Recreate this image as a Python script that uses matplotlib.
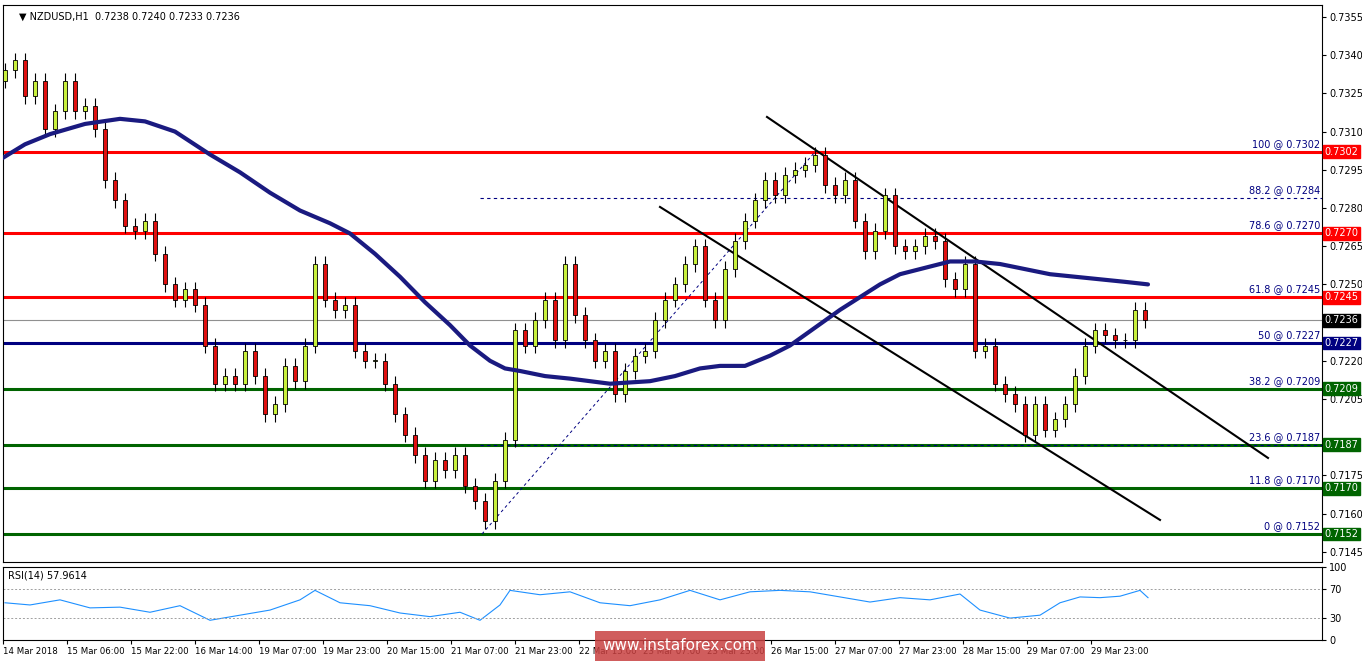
import matplotlib
matplotlib.use("Agg")
import matplotlib.pyplot as plt
import numpy as np

closes = [0.7334,0.7338,0.7324,0.7330,0.7311,0.7318,0.7330,0.7318,0.7320,0.7311,
0.7291,0.7283,0.7273,0.7271,0.7275,0.7262,0.7250,0.7244,0.7248,0.7242,
0.7226,0.7211,0.7214,0.7211,0.7224,0.7214,0.7199,0.7203,0.7218,0.7212,
0.7226,0.7258,0.7244,0.7240,0.7242,0.7224,0.7220,0.7220,0.7211,0.7199,
0.7191,0.7183,0.7173,0.7181,0.7177,0.7183,0.7171,0.7165,0.7157,0.7173,
0.7189,0.7232,0.7226,0.7236,0.7244,0.7228,0.7258,0.7238,0.7228,0.7220,
0.7224,0.7207,0.7216,0.7222,0.7224,0.7236,0.7244,0.7250,0.7258,0.7265,
0.7244,0.7236,0.7256,0.7267,0.7275,0.7283,0.7291,0.7285,0.7293,0.7295,
0.7297,0.7301,0.7289,0.7285,0.7291,0.7275,0.7263,0.7271,0.7285,0.7265,
0.7263,0.7265,0.7269,0.7267,0.7252,0.7248,0.7258,0.7224,0.7226,0.7211,
0.7207,0.7203,0.7191,0.7203,0.7193,0.7197,0.7203,0.7214,0.7226,0.7232,
0.7230,0.7228,0.7228,0.7240,0.7236]
first_open = 0.7330

ma_px = [0,25,50,85,120,145,175,210,240,270,300,330,350,375,400,425,450,470,490,505,520,545,570,610,650,675,
         700,720,745,770,790,815,840,860,880,900,920,950,975,1000,1025,1050,1075,1100,1125,1148]
ma_vals = [0.7299,0.7305,0.7309,0.7313,0.7315,0.7314,0.7310,0.7301,0.7294,0.7286,0.7279,0.7274,0.7270,0.7262,
           0.7253,0.7243,0.7234,0.7226,0.7220,0.7217,0.7216,0.7214,0.7213,0.7211,0.7212,0.7214,0.7217,0.7218,
           0.7218,0.7222,0.7226,0.7233,0.7240,0.7245,0.7250,0.7254,0.7256,0.7259,0.7259,0.7258,0.7256,0.7254,
           0.7253,0.7252,0.7251,0.7250]

rsi_px = [5,30,60,90,120,150,180,210,240,270,300,315,340,370,400,430,460,480,500,510,540,570,600,630,660,690,
          720,750,780,810,840,870,900,930,960,980,1010,1040,1060,1080,1100,1120,1140,1148]
rsi_vals = [51,48,55,44,45,38,47,27,34,41,55,68,51,47,37,32,38,27,48,68,62,66,51,47,55,68,
            55,66,68,66,59,52,58,55,63,41,30,34,51,59,58,60,68,58]

red_levels = [0.7302,0.7270,0.7245]
navy_levels = [0.7227]
green_levels = [0.7209,0.7187,0.7170,0.7152]
fib_pct = ["100","88.2","78.6","61.8","50","38.2","23.6","11.8","0"]
fib_vals = [0.7302,0.7284,0.7270,0.7245,0.7227,0.7209,0.7187,0.7170,0.7152]
last_price = 0.7236
price_ticks = [0.7145,0.7160,0.7175,0.7205,0.7220,0.7250,0.7265,0.7280,0.7295,0.7310,0.7325,0.7340,0.7355]

xlabels = ["14 Mar 2018","15 Mar 06:00","15 Mar 22:00","16 Mar 14:00","19 Mar 07:00","19 Mar 23:00",
           "20 Mar 15:00","21 Mar 07:00","21 Mar 23:00","22 Mar 15:00","23 Mar 07:00","23 Mar 23:00",
           "26 Mar 15:00","27 Mar 07:00","27 Mar 23:00","28 Mar 15:00","29 Mar 07:00","29 Mar 23:00"]

def h(px):  # pixel -> hour coordinate
    return (px - 3) / 4.0

fig = plt.figure(figsize=(13.62, 6.61), dpi=100)
ax = fig.add_axes([3/1362, 1-562/661, 1319/1362, 557/661])
ar = fig.add_axes([3/1362, 1-640/661, 1319/1362, 73/661], sharex=ax)

ax.set_ylim(0.71410, 0.73597)
ax.set_xlim(0, h(1322))

for v in red_levels:
    ax.axhline(v, color="#ff0000", lw=2.2, zorder=2)
for v in navy_levels:
    ax.axhline(v, color="#000080", lw=2.2, zorder=2)
for v in green_levels:
    ax.axhline(v, color="#006400", lw=2.2, zorder=2)
ax.axhline(last_price, color="#909090", lw=0.8, zorder=1)
ax.hlines(0.7284, h(480), h(1322), colors="#000080", lw=0.8, linestyles=(0, (3, 3)), zorder=2)
ax.hlines(0.7187, h(480), h(1322), colors="#000080", lw=0.8, linestyles=(0, (3, 3)), zorder=2)

ax.plot([h(482), h(815)], [0.7152, 0.7302], color="#000080", lw=0.7, ls=(0, (3, 3)), zorder=2)

def p(y):
    return 0.7302 - (y - 152) / 2.547 * 0.0001
ax.plot([h(767), h(1268)], [p(117), p(458)], color="black", lw=1.5, zorder=3)
ax.plot([h(660), h(1160)], [p(207), p(520)], color="black", lw=1.5, zorder=3)

opens = [first_open] + closes[:-1]
xs = [h(5 + 10 * i) for i in range(len(closes))]
for x, o, c in zip(xs, opens, closes):
    top, bot = max(o, c), min(o, c)
    ax.vlines(x, bot - 0.0003, top + 0.0003, color="black", lw=0.8, zorder=4)
    col = "#c8f03c" if c >= o else "#e01010"
    ax.bar(x, max(top - bot, 0.00003), bottom=bot, width=1.2, color=col, edgecolor="black", lw=0.6, zorder=5)

ax.plot([h(v) for v in ma_px], ma_vals, color="#1a1a80", lw=3, zorder=6,
        solid_capstyle="round", solid_joinstyle="round")

for a in (ax, ar):
    a.yaxis.tick_right()
    a.tick_params(axis="y", labelsize=7, length=3, pad=2)
    for s in a.spines.values():
        s.set_linewidth(0.8)
ax.set_yticks(price_ticks)
ax.set_yticklabels([f"{v:.4f}" for v in price_ticks])
ax.tick_params(axis="x", bottom=False, labelbottom=False)

def box(v, fc, tc="white"):
    ax.text(1.002, v, f"{v:.4f}", transform=ax.get_yaxis_transform(), fontsize=7, color=tc,
            va="center", ha="left", zorder=10,
            bbox=dict(boxstyle="square,pad=0.15", fc=fc, ec=fc))
for v in red_levels:
    box(v, "#ff0000")
for v in navy_levels:
    box(v, "#000080")
for v in green_levels:
    box(v, "#006400")
box(last_price, "black")

for lab, v in zip(fib_pct, fib_vals):
    ax.text(h(1320), v + 0.00012, f"{lab} @ {v:.4f}", fontsize=7, color="#000080", ha="right", va="bottom", zorder=7)

ax.text(0.012, 0.988, "\u25bc NZDUSD,H1  0.7238 0.7240 0.7233 0.7236", transform=ax.transAxes,
        fontsize=7, va="top", ha="left")

ar.set_ylim(0, 100)
ar.plot([h(v) for v in rsi_px], rsi_vals, color="#1e90ff", lw=0.8)
ar.axhline(70, color="#a0a0a0", lw=0.7, ls=(0, (2, 2)))
ar.axhline(30, color="#a0a0a0", lw=0.7, ls=(0, (2, 2)))
ar.set_yticks([100, 70, 30, 0])
ar.set_yticklabels(["100", "70", "30", "0"])
ar.text(0.004, 0.95, "RSI(14) 57.9614", transform=ar.transAxes, fontsize=7, va="top")
ar.set_xticks([16 * k for k in range(len(xlabels))])
ar.set_xticklabels(xlabels, fontsize=6.2, ha="left")
ar.tick_params(axis="x", length=3, pad=2)

fig.text(680 / 1362, 1 - 646 / 661, "www.instaforex.com", fontsize=11, color="white", ha="center", va="center",
         bbox=dict(boxstyle="square,pad=0.5", fc="#c84040", ec="none", alpha=0.85), zorder=20)

fig.savefig("out.png", dpi=100)
